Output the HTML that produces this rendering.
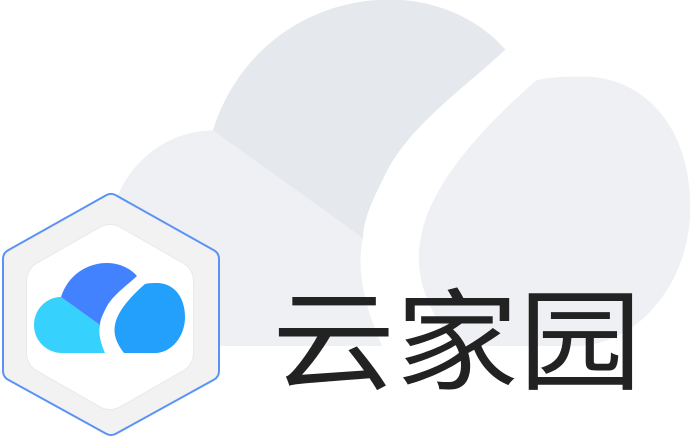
<!DOCTYPE html>
<html><head><meta charset="utf-8"><style>
html,body{margin:0;padding:0;background:#fff;}
body{width:692px;height:437px;overflow:hidden;position:relative;}
svg{position:absolute;left:0;top:0;}
</style></head><body>
<svg width="692" height="437" viewBox="0 0 692 437" xmlns="http://www.w3.org/2000/svg">
  <defs>
    <path id="cl" d="M61,297 L100,325 C98,334 101,344 105,353 L62,353 C47,353 34,341 34,325 C34,310 46,297 61,297 Z"/>
    <path id="ct" d="M61,297 C68,275 87,263 107,263 C119,263 130,268 137,276 C125,287 112,296 106,308 C103,314 100,320 100,325 Z"/>
    <path id="cr" d="M145,284 C149,283 153,283 157,283 C173,283 185,296 185,317 C185,337 171,353 155,353 L124,353 C117,344 113,335 115,325 C117,312 130,297 145,284 Z"/>
  </defs>
  <g transform="matrix(3.85,0,0,3.85,-22,-1013)">
    <use href="#cl" fill="#eff0f3"/>
    <use href="#ct" fill="#e5e8ed"/>
    <use href="#cr" fill="#eff0f4"/>
  </g>
  <polygon points="111,204 209,259 209,371 111,425 13,371 13,259" fill="#5b93f5" stroke="#5b93f5" stroke-width="22" stroke-linejoin="round"/>
  <polygon points="111,204 209,259 209,371 111,425 13,371 13,259" fill="#f2f2f3" stroke="#f2f2f3" stroke-width="18" stroke-linejoin="round"/>
  <polygon points="110,245 173,281 173,353 110,389 47,353 47,281" fill="#e9e9ea" stroke="#e9e9ea" stroke-width="42" stroke-linejoin="round"/>
  <polygon points="110,245 173,281 173,353 110,389 47,353 47,281" fill="#fff" stroke="#fff" stroke-width="40" stroke-linejoin="round"/>
  <use href="#cl" fill="#36d1fc"/>
  <use href="#ct" fill="#4282ff"/>
  <use href="#cr" fill="#22a0fc"/>
  <text x="272" y="381" font-family="'Liberation Sans','Noto Sans CJK SC',sans-serif" font-size="110" fill="#222" textLength="370" lengthAdjust="spacingAndGlyphs">云家园</text>
</svg>
</body></html>
